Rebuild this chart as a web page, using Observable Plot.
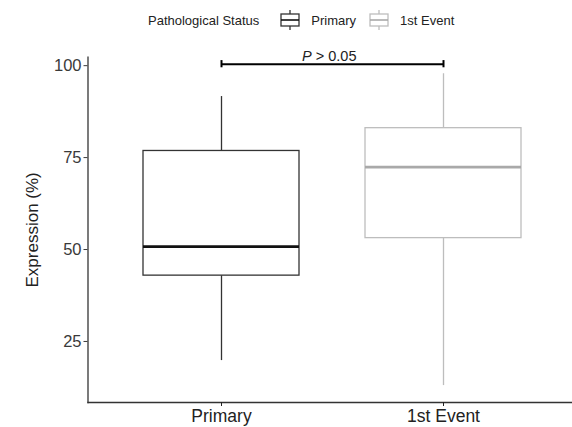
<!DOCTYPE html>
<html>
<head>
<meta charset="utf-8">
<script src="https://cdn.jsdelivr.net/npm/d3@7"></script>
<script src="https://cdn.jsdelivr.net/npm/@observablehq/plot@0.6"></script>
<style>
  html, body { margin: 0; padding: 0; background: #fff; }
  body { width: 572px; height: 427px; overflow: hidden; font-family: "Liberation Sans", Arial, sans-serif; }
  #legend { height: 40px; display: flex; align-items: center; padding-left: 148px; font-size: 13px; color: #222; box-sizing: border-box; }
  #legend .title { margin-right: 20px; }
  #legend .key { width: 22px; height: 22px; margin-right: 10px; display: block; }
  #legend .lab { margin-right: 12px; }
  #chart svg { display: block; }
</style>
</head>
<body>
<div id="legend"></div>
<div id="chart"></div>
<script>
// ---- data ----
const groups = ["Primary", "1st Event"];
const whiskerLow  = [19.8, 13.0];
const q1          = [42.9, 53.1];
const median      = [50.8, 72.4];
const q3          = [76.8, 83.0];
const whiskerHigh = [91.6, 97.8];
const boxColors    = ["#333333", "#bdbdbd"];
const medianColors = ["#111111", "#a9a9a9"];
const yTicks = [25, 50, 75, 100];
const yDomain = [8.4, 102.3];
const yTitle = "Expression (%)";
const legendTitle = "Pathological Status";
const comparison = { from: "Primary", to: "1st Event", y: 100.4, label: "P > 0.05" };

const table = groups.map((g, i) => ({
  group: g, lo: whiskerLow[i], q1: q1[i], med: median[i], q3: q3[i], hi: whiskerHigh[i],
  color: boxColors[i], medColor: medianColors[i]
}));

// ---- legend (HTML, above the SVG) ----
const legend = d3.select("#legend");
legend.append("span").attr("class", "title").text(legendTitle);
table.forEach(d => {
  const k = legend.append("svg").attr("class", "key").attr("viewBox", "0 0 22 22");
  k.append("line").attr("x1", 11).attr("x2", 11).attr("y1", 1).attr("y2", 5).attr("stroke", d.color).attr("stroke-width", 1.3);
  k.append("line").attr("x1", 11).attr("x2", 11).attr("y1", 17).attr("y2", 21).attr("stroke", d.color).attr("stroke-width", 1.3);
  k.append("rect").attr("x", 2).attr("y", 5).attr("width", 18).attr("height", 12).attr("fill", "#fff").attr("stroke", d.color).attr("stroke-width", 1.3);
  k.append("line").attr("x1", 2).attr("x2", 20).attr("y1", 11).attr("y2", 11).attr("stroke", d.medColor).attr("stroke-width", 1.6);
  legend.append("span").attr("class", "lab").text(d.group);
});

// ---- chart ----
const boxMarks = table.flatMap(d => [
  Plot.ruleX([d], { x: "group", y1: "lo", y2: "q1", stroke: d.color, strokeWidth: 1.3 }),
  Plot.ruleX([d], { x: "group", y1: "q3", y2: "hi", stroke: d.color, strokeWidth: 1.3 }),
  Plot.barY([d], { x: "group", y1: "q1", y2: "q3", fill: "white", stroke: d.color, strokeWidth: 1.3 }),
  Plot.tickY([d], { x: "group", y: "med", stroke: d.medColor, strokeWidth: 2.6 })
]);

const plot = Plot.plot({
  width: 572,
  height: 387,
  marginLeft: 87.5,
  marginRight: -4,
  marginTop: 16.7,
  marginBottom: 25,
  style: { fontFamily: "Liberation Sans, Arial, sans-serif", background: "#fff", color: "#333" },
  x: { domain: groups, paddingInner: 0.297, paddingOuter: 0.2455, label: null },
  y: { domain: yDomain, label: null },
  marks: [
    ...boxMarks,
    Plot.frame({ anchor: "left", stroke: "#333", strokeWidth: 1.3 }),
    Plot.frame({ anchor: "bottom", stroke: "#333", strokeWidth: 1.3 }),
    Plot.axisY({ ticks: yTicks, tickSize: 4, tickPadding: 2.5, fontSize: 16.5, color: "#3a3a3a", label: null }),
    Plot.axisX({ tickSize: 4, tickPadding: 3, fontSize: 17.5, color: "#222", label: null }),
    Plot.text([yTitle], { text: d => d, frameAnchor: "left", textAnchor: "middle", rotate: -90, dx: -55.5, fontSize: 17, fill: "#222" }),
    Plot.link([comparison], { x1: "from", x2: "to", y1: "y", y2: "y", stroke: "#000", strokeWidth: 2 }),
    Plot.ruleX([comparison.from, comparison.to], { x: d => d, y1: () => comparison.y, y2: () => comparison.y, insetTop: -3.6, insetBottom: -3.6, stroke: "#000", strokeWidth: 2 }),
    Plot.text([comparison], { y: "y", text: "label", frameAnchor: "middle", dx: -3, dy: -7.5, fontSize: 14.5, fill: "#222" })
  ]
});

d3.select(plot).selectAll("text").filter(function () { return this.textContent === comparison.label; })
  .each(function () {
    const t = d3.select(this);
    t.text(null);
    t.append("tspan").attr("font-style", "italic").text(comparison.label.slice(0, 1));
    t.append("tspan").text(comparison.label.slice(1));
  });

document.getElementById("chart").appendChild(plot);
</script>
</body>
</html>
